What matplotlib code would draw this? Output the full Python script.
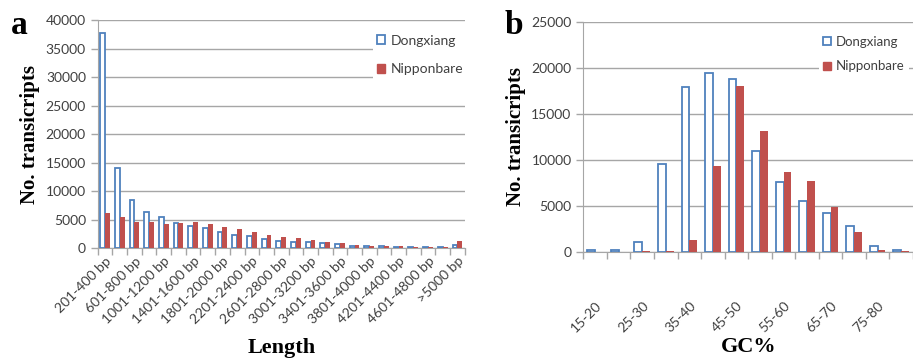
import matplotlib
matplotlib.use('Agg')
import matplotlib.pyplot as plt
from matplotlib.patches import Patch
import numpy as np

# panel a: transcript length
length_bins = ['201-400 bp', '401-600 bp', '601-800 bp', '801-1000 bp', '1001-1200 bp',
               '1201-1400 bp', '1401-1600 bp', '1601-1800 bp', '1801-2000 bp', '2001-2200 bp',
               '2201-2400 bp', '2401-2600 bp', '2601-2800 bp', '2801-3000 bp', '3001-3200 bp',
               '3201-3400 bp', '3401-3600 bp', '3601-3800 bp', '3801-4000 bp', '4001-4200 bp',
               '4201-4400 bp', '4401-4600 bp', '4601-4800 bp', '4801-5000 bp', '>5000 bp']
length_dongxiang = [37700, 14000, 8400, 6400, 5400, 4450, 3900, 3450, 2850, 2300,
                    2100, 1600, 1300, 1100, 1000, 900, 650, 400, 400, 400,
                    250, 150, 150, 100, 600]
length_nipponbare = [6100, 5500, 4600, 4600, 4300, 4450, 4600, 4300, 3700, 3300,
                     2750, 2300, 1900, 1700, 1500, 1100, 900, 500, 400, 350,
                     400, 150, 100, 100, 1300]

# panel b: GC content
gc_bins = ['15-20', '20-25', '25-30', '30-35', '35-40', '40-45', '45-50',
           '50-55', '55-60', '60-65', '65-70', '70-75', '75-80', '80-85']
gc_dongxiang = [250, 250, 1100, 9600, 17950, 19500, 18750, 11000, 7600, 5500, 4200, 2850, 650, 200]
gc_nipponbare = [0, 0, 100, 80, 1340, 9300, 18000, 13100, 8700, 7700, 4900, 2200, 200, 100]

BLUE = '#4F81BD'
RED = '#C0504D'
GRID = '#A6A6A6'
TEXT = '#404040'
SANS = 'Lato'
SERIF = 'Liberation Serif'


def draw_panel(ax, cats, blue_vals, red_vals, ymax, ystep, xlabel,
               label_pad, xlabel_pad, legend_x, legend_size, legend_spacing):
    n = len(cats)
    x = np.arange(n)
    w = 0.33
    ax.bar(x - w / 2, blue_vals, w, facecolor='white', edgecolor=BLUE, linewidth=1.3, zorder=3)
    ax.bar(x + w / 2, red_vals, w, color=RED, linewidth=0, zorder=3)

    ax.set_xlim(-0.5, n - 0.5)
    ax.set_ylim(0, ymax)
    ax.set_yticks(np.arange(0, ymax + 1, ystep))
    ax.yaxis.grid(True, color=GRID, linewidth=1.0, zorder=0)
    ax.set_axisbelow(True)

    # tick marks at category boundaries, labels on every other category
    ax.set_xticks(np.arange(-0.5, n, 1))
    ax.set_xticklabels([])
    ax.tick_params(axis='x', which='major', length=5, color=GRID, width=1)
    ax.set_xticks(x[::2], minor=True)
    ax.set_xticklabels(cats[::2], minor=True, rotation=45, ha='right',
                       rotation_mode='anchor', fontsize=10, family=SANS, color=TEXT)
    ax.tick_params(axis='x', which='minor', length=0, pad=label_pad)
    ax.tick_params(axis='y', length=5, color=GRID, width=1, labelsize=10, labelcolor=TEXT)
    for lab in ax.get_yticklabels():
        lab.set_family(SANS)

    for side in ['top', 'right']:
        ax.spines[side].set_visible(False)
    ax.spines['left'].set_color(GRID)
    ax.spines['bottom'].set_color(GRID)

    ax.set_xlabel(xlabel, family=SERIF, fontweight='bold', fontsize=16, labelpad=xlabel_pad)
    ax.set_ylabel('No. transicripts', family=SERIF, fontweight='bold', fontsize=15, labelpad=4)

    handles = [Patch(facecolor='white', edgecolor=BLUE, linewidth=1.3, label='Dongxiang'),
               Patch(facecolor=RED, edgecolor=RED, label='Nipponbare')]
    leg = ax.legend(handles=handles, loc='upper left', bbox_to_anchor=(legend_x, 0.985),
                    frameon=True, framealpha=1, edgecolor='none', fancybox=False,
                    handlelength=0.6, handleheight=0.6, handletextpad=0.4,
                    labelspacing=legend_spacing, borderpad=0.3,
                    prop={'family': SANS, 'size': legend_size})
    leg.set_zorder(5)
    for t in leg.get_texts():
        t.set_color(TEXT)


fig = plt.figure(figsize=(9.13, 3.59), dpi=100)

ax_a = fig.add_axes([0.107, 0.309, 0.402, 0.635])
draw_panel(ax_a, length_bins, length_dongxiang, length_nipponbare, 40000, 5000,
           'Length', 5, 8, 0.73, 10, 1.2)

ax_b = fig.add_axes([0.639, 0.298, 0.361, 0.641])
draw_panel(ax_b, gc_bins, gc_dongxiang, gc_nipponbare, 25000, 5000,
           'GC%', 34, 2, 0.695, 9.5, 0.95)

fig.text(0.012, 0.905, 'a', family=SERIF, fontweight='bold', fontsize=24)
fig.text(0.553, 0.905, 'b', family=SERIF, fontweight='bold', fontsize=24)

fig.savefig('out.png', dpi=100)
